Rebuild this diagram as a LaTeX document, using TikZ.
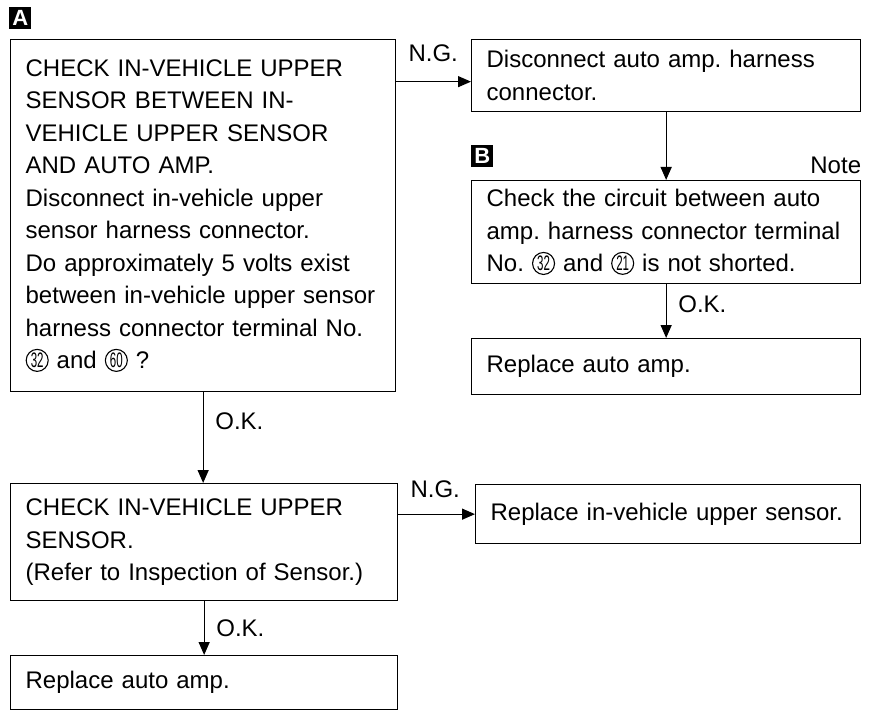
\documentclass[tikz,border=0pt]{standalone}
\usepackage{fontspec}
\setmainfont{Liberation Sans}
\usetikzlibrary{arrows.meta,calc}
\frenchspacing
\newcommand{\cnum}[1]{\tikz[baseline={([yshift=-1pt]cn.base)}]\node[draw,circle,line width=1.1pt,inner sep=0pt,minimum size=22pt](cn){\fontsize{21}{21}\selectfont\scalebox{0.55}[1]{#1}};}
\begin{document}
\begin{tikzpicture}[x=1pt,y=-1pt,
 box/.style={draw,line width=1.3pt,anchor=north west,align=left,inner xsep=15pt,inner ysep=0pt,font=\fontsize{24}{32.5}\selectfont},
 arr/.style={line width=1.3pt,-{Triangle[length=13pt,width=11pt]}},
 lbl/.style={font=\fontsize{24}{28}\selectfont,inner sep=0pt},
 tag/.style={fill=black,text=white,font=\bfseries\fontsize{22}{22}\selectfont,minimum size=22pt,inner sep=0pt}]
\useasboundingbox (0,0) rectangle (870,711);

\node[tag,anchor=north west] (tA) at (9,7) {A};
\node[box,text width=355pt,minimum height=352pt] (A) at (10,39) {CHECK IN-VEHICLE UPPER\\ SENSOR BETWEEN IN-\\ VEHICLE UPPER SENSOR\\ AND AUTO AMP.\\ Disconnect in-vehicle upper\\ sensor harness connector.\\ Do approximately 5 volts exist\\ between in-vehicle upper sensor\\ harness connector terminal No.\\ \cnum{32} and \cnum{60} ?};

\node[box,text width=359pt,minimum height=72pt] (D) at (471,39) {Disconnect auto amp. harness\\ connector.};

\node[tag,anchor=north west] (tB) at (471,145) {B};
\node[box,text width=359pt,minimum height=103pt] (B) at (471,180) {Check the circuit between auto\\ amp. harness connector terminal\\ No. \cnum{32} and \cnum{21} is not shorted.};
\node[lbl,anchor=south east] (note) at ($(B.north east)+(0,-6)$) {Note};

\node[box,text width=359pt,minimum height=56pt] (R1) at (471,338) {Replace auto amp.};

\node[box,text width=357pt,minimum height=117pt] (C) at (10,483) {CHECK IN-VEHICLE UPPER\\ SENSOR.\\ (Refer to Inspection of Sensor.)};

\node[box,text width=355pt,minimum height=59pt] (R2) at (475,484) {Replace in-vehicle upper sensor.};

\node[box,text width=357pt,minimum height=54pt] (F) at (10,655) {Replace auto amp.};

% connectors
\coordinate (ngy) at ($(D.west)+(0,6)$);
\draw[arr] (A.east |- ngy) -- (D.west |- ngy);
\node[lbl,anchor=south west] (ng1) at ($(A.east |- ngy)+(12,-20)$) {N.G.};

\draw[arr] (D.south) -- (B.north);

\draw[arr] (B.south) -- (R1.north);
\node[lbl,anchor=west] (ok1) at ($(B.south)+(12,20)$) {O.K.};

\draw[arr] (A.south) -- (A.south |- C.north);
\node[lbl,anchor=west] (ok2) at ($(A.south)+(12,29)$) {O.K.};

\draw[arr] (C.east |- R2.west) -- (R2.west);
\node[lbl,anchor=south west] (ng2) at ($(C.east |- R2.west)+(12,-16)$) {N.G.};

\draw[arr] (C.south) -- (C.south |- F.north);
\node[lbl,anchor=west] (ok3) at ($(C.south)+(12,27)$) {O.K.};
\end{tikzpicture}
\end{document}
